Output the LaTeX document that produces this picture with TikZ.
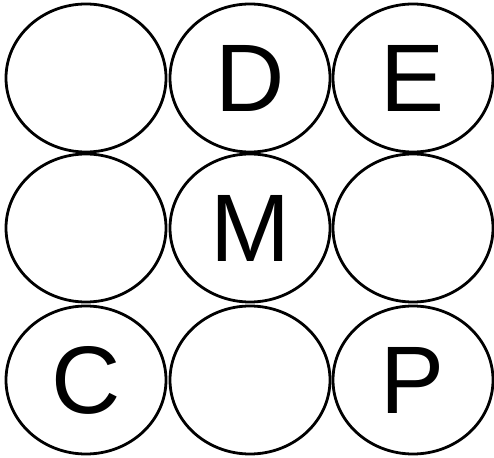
\documentclass[tikz,border=0pt]{standalone}
\usepackage{fontspec}
\setsansfont{Liberation Sans}
\usetikzlibrary{shapes.geometric}

\begin{document}
\begin{tikzpicture}[
    x=1pt, y=1pt,
    cell/.style={draw, ellipse, line width=2.8pt, inner sep=0pt,
        minimum width=160pt, minimum height=148pt,
        font=\sffamily\fontsize{96}{96}\selectfont}
]
    \useasboundingbox (0,0) rectangle (494,457);

    % top row
    \node[cell] (topleft) at (86,379) {};
    \node[cell] (D) at (250,379) {D};
    \node[cell] (E) at (413,379) {E};

    % middle row
    \node[cell] (midleft) at (86,229) {};
    \node[cell] (M) at (250,229) {M};
    \node[cell] (midright) at (413,229) {};

    % bottom row
    \node[cell] (C) at (86,77) {C};
    \node[cell] (botmid) at (250,77) {};
    \node[cell] (P) at (413,77) {P};
\end{tikzpicture}
\end{document}
